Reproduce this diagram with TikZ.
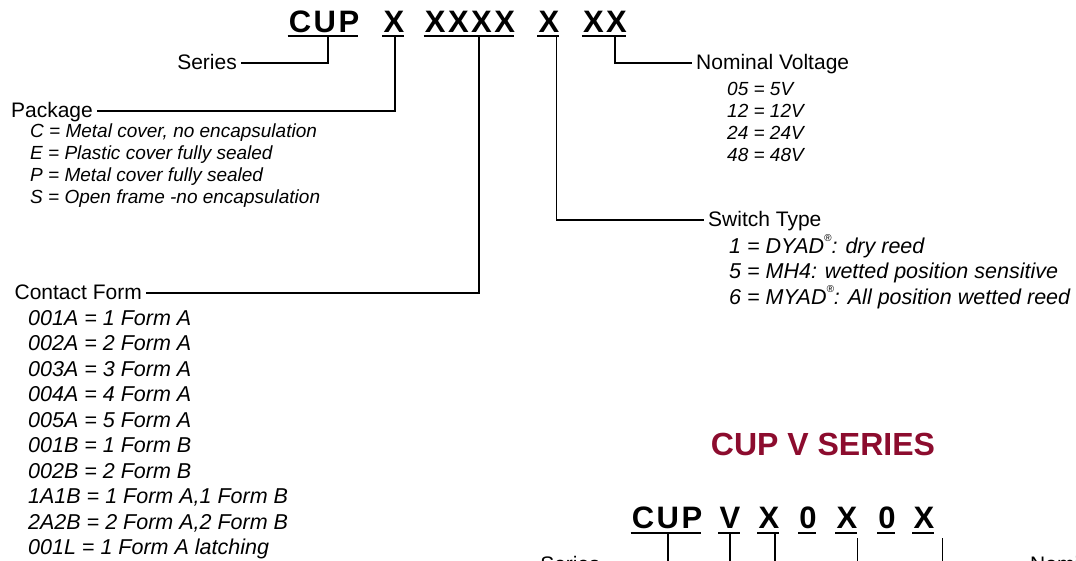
\documentclass[tikz,border=0pt]{standalone}
\usepackage{fontspec}
\setmainfont{Liberation Sans}
\newfontfamily\codefont[LetterSpace=8]{Liberation Sans}
\definecolor{seriesred}{RGB}{140,12,46}
\newcommand{\regmark}{\raisebox{0.55em}{\fontsize{10}{10}\selectfont\textregistered}}
\tikzset{
  CodeStyle/.style = { inner sep=0pt, anchor=base,
                       font = \codefont\bfseries\fontsize{31}{36}\selectfont },
  TitleStyle/.style = { inner sep=0pt, text = seriesred,
                        font = \fontsize{32}{36}\selectfont\bfseries },
  LabelStyle/.style = { inner sep=4pt, font = \fontsize{21}{24}\selectfont },
  ItemStyle/.style = { inner sep=0pt, anchor=north west, align=left,
                       font = \fontsize{19}{22}\selectfont\itshape },
  BigItemStyle/.style = { ItemStyle,
                          font = \fontsize{21.5}{25.5}\selectfont\itshape },
  LeaderStyle/.style = { line width=1.8pt },
  UnderStyle/.style = { line width=1.6pt } }

\begin{document}
\begin{tikzpicture}[x=1pt,y=-1pt]
  \clip (0,0) rectangle (1076,560);
  % part number
  \node[CodeStyle](CUP) at (324,32){CUP};
  \node[CodeStyle](PKG) at (394,32){X};
  \node[CodeStyle](FORM) at (470,32){XXXX};
  \node[CodeStyle](SW) at (549,32){X};
  \node[CodeStyle](VOLT) at (605,32){XX};
  \foreach \n in {CUP,PKG,FORM,SW,VOLT}
    \draw[UnderStyle] ([xshift=-1pt,yshift=-4pt]\n.base west) -- ([xshift=-1pt,yshift=-4pt]\n.base east);

  % labels sit with the leader 6pt above their base line
  \node[LabelStyle, anchor=base east](SERIES) at (241,69){Series};
  \node[LabelStyle, anchor=base east](PACKAGE) at (97,117){Package};
  \node[LabelStyle, anchor=base east](CONTACT) at (146,299){Contact Form};
  \node[LabelStyle, anchor=base west](SWITCH) at (704,226){Switch Type};
  \node[LabelStyle, anchor=base west](VOLTAGE) at (692,69){Nominal Voltage};

  \node[ItemStyle](PKGLIST) at (30,124){C = Metal cover, no encapsulation\\
    E = Plastic cover fully sealed\\ P = Metal cover fully sealed\\
    S = Open frame -no encapsulation};
  \node[BigItemStyle](FORMLIST) at (28,310){001A = 1 Form A\\ 002A = 2 Form A\\
    003A = 3 Form A\\ 004A = 4 Form A\\ 005A = 5 Form A\\ 001B = 1 Form B\\
    002B = 2 Form B\\ 1A1B = 1 Form A,1 Form B\\ 2A2B = 2 Form A,2 Form B\\
    001L = 1 Form A latching};
  \node[BigItemStyle](SWLIST) at (729,234){1 = DYAD\regmark: dry reed\\
    5 = MH4: wetted position sensitive\\
    6 = MYAD\regmark: All position wetted reed};
  \node[ItemStyle](VOLTLIST) at (727,82){05 = 5V\\ 12 = 12V\\ 24 = 24V\\ 48 = 48V};

  \draw[LeaderStyle] ([xshift=4pt,yshift=-4pt]CUP.base) |- ([yshift=6pt]SERIES.base east);
  \draw[LeaderStyle] ([xshift=1pt,yshift=-4pt]PKG.base) |- ([yshift=6pt]PACKAGE.base east);
  \draw[LeaderStyle] ([xshift=9pt,yshift=-4pt]FORM.base) |- ([yshift=6pt]CONTACT.base east);
  \draw[LeaderStyle] ([xshift=-3pt,yshift=-4pt]SW.base east) |- ([yshift=6pt]SWITCH.base west);
  \draw[LeaderStyle] ([xshift=10pt,yshift=-4pt]VOLT.base) |- ([yshift=6pt]VOLTAGE.base west);

  % CUP V series
  \node[TitleStyle](TITLE) at (823,444){CUP V SERIES};
  \node[CodeStyle](VCUP) at (667,528){CUP};
  \node[CodeStyle](VV) at (730,528){V};
  \node[CodeStyle](VX1) at (769,528){X};
  \node[CodeStyle](VZ1) at (808,528){0};
  \node[CodeStyle](VX2) at (847,528){X};
  \node[CodeStyle](VZ2) at (887,528){0};
  \node[CodeStyle](VX3) at (924,528){X};
  \foreach \n in {VCUP,VV,VX1,VZ1,VX2,VZ2,VX3}
    \draw[UnderStyle] ([xshift=-1pt,yshift=-5pt]\n.base west) -- ([xshift=-1pt,yshift=-5pt]\n.base east);

  \node[LabelStyle, anchor=base east](VSERIES) at (604,571){Series};
  \node[LabelStyle, anchor=base west](VVOLTAGE) at (1026,571){Nominal Voltage};
  \coordinate (VEND) at (800,580);

  \draw[LeaderStyle] ([xshift=1pt,yshift=-5pt]VCUP.base) |- ([yshift=6pt]VSERIES.base east);
  \draw[LeaderStyle] ([yshift=-5pt]VV.base) -- (VV.base |- VEND);
  \draw[LeaderStyle] ([xshift=6pt,yshift=-5pt]VX1.base) -- ([xshift=6pt]VX1.base |- VEND);
  \draw[LeaderStyle] ([xshift=0pt,yshift=-10pt]VX2.base east) -- ([xshift=0pt]VX2.base east |- VEND);
  \draw[LeaderStyle] ([xshift=8pt,yshift=-10pt]VX3.base east) -- ([xshift=8pt]VX3.base east |- VEND);
\end{tikzpicture}
\end{document}
